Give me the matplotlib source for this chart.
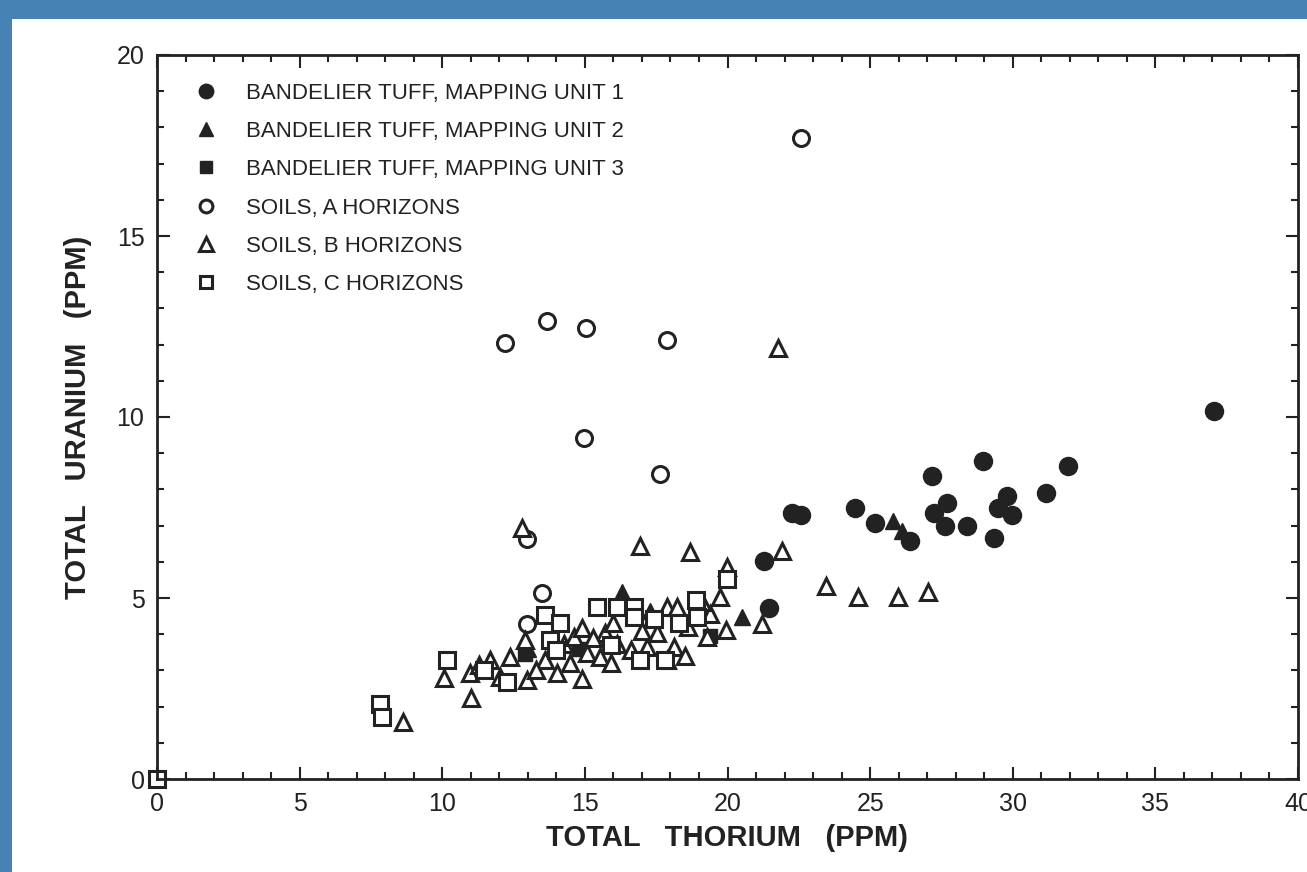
import matplotlib
matplotlib.use("Agg")
from matplotlib import pyplot as plt
from matplotlib.patches import Rectangle
from matplotlib.ticker import MultipleLocator

plt.rcParams["font.family"] = ["Liberation Sans", "DejaVu Sans"]

# Bandelier tuff, mapping unit 1 (filled circles)
tuff1_th = [37.05, 31.95, 31.16, 29.99, 29.79, 29.5, 29.35, 28.97, 28.39, 27.71,
            27.63, 27.24, 27.16, 26.39, 25.17, 24.47, 22.56, 22.25, 21.27, 21.47]
tuff1_u = [10.17, 8.65, 7.89, 7.29, 7.82, 7.48, 6.67, 8.78, 7.0, 7.63,
           7.0, 7.34, 8.37, 6.57, 7.08, 7.48, 7.29, 7.34, 6.02, 4.73]

# Bandelier tuff, mapping unit 2 (filled triangles)
tuff2_th = [25.8, 26.1, 20.5, 16.3, 17.3, 13.0]
tuff2_u = [7.12, 6.85, 4.48, 5.17, 4.65, 3.6]

# Bandelier tuff, mapping unit 3 (filled squares)
tuff3_th = [12.9, 14.8, 19.4]
tuff3_u = [3.45, 3.6, 3.95]

# soils, A horizons (open circles)
soil_a_th = [22.56, 12.19, 13.67, 15.05, 17.88, 14.96, 17.65, 12.98, 13.5, 12.97]
soil_a_u = [17.70, 12.04, 12.66, 12.45, 12.13, 9.43, 8.42, 6.62, 5.15, 4.28]

# soils, B horizons (open triangles)
soil_b_th = [21.78, 12.81, 16.95, 18.67, 21.9, 19.99, 23.44, 24.56, 25.96, 27.02,
             21.22, 8.63, 10.06, 10.98, 11.02, 11.68, 12.04, 12.39, 12.97, 12.91,
             14.02, 14.9, 14.26, 14.61, 14.9, 15.08, 14.49, 15.72, 15.54, 16.13,
             16.6, 17.18, 17.88, 18.23, 17.88, 18.12, 17.53, 19.4, 19.75, 19.29,
             19.93, 16.0, 15.3, 13.6, 18.6, 17.0, 11.3, 13.3, 15.9, 18.5, 19.1]
soil_b_u = [11.9, 6.93, 6.44, 6.27, 6.3, 5.86, 5.33, 5.03, 5.03, 5.17,
            4.28, 1.57, 2.78, 2.92, 2.25, 3.29, 2.83, 3.38, 2.73, 3.84,
            2.92, 2.75, 3.74, 3.93, 4.16, 3.47, 3.2, 4.02, 3.38, 3.74,
            3.56, 3.65, 4.76, 4.76, 3.29, 3.65, 4.02, 4.57, 5.04, 3.93,
            4.12, 4.3, 3.9, 3.3, 4.2, 4.1, 3.15, 3.0, 3.2, 3.4, 4.9]

# soils, C horizons (open squares)
soil_c_th = [0.0, 7.82, 7.89, 10.16, 11.45, 12.27, 13.61, 14.12, 13.77, 15.43,
             16.13, 16.71, 16.71, 16.95, 17.42, 18.29, 18.88, 18.94, 19.99, 14.0,
             15.9, 17.8]
soil_c_u = [0.0, 2.07, 1.70, 3.29, 3.01, 2.69, 4.53, 4.30, 3.84, 4.76,
            4.76, 4.76, 4.48, 3.29, 4.43, 4.30, 4.94, 4.48, 5.52, 3.55,
            3.7, 3.3]

ink = "#222222"

fig = plt.figure(figsize=(13.07, 8.72), dpi=100)
fig.patch.set_facecolor("#4682b4")

# white page area inside the blue frame
fig.add_artist(Rectangle((12 / 1307, 0), 1, 1 - 19 / 872,
                         transform=fig.transFigure, facecolor="white",
                         edgecolor="none", zorder=-5))

ax = fig.add_axes([157 / 1307, 1 - 779 / 872, (1298 - 157) / 1307, (779 - 55) / 872])
ax.set_facecolor("white")

ax.plot(tuff1_th, tuff1_u, "o", ms=13, color=ink, mec=ink,
        label="BANDELIER TUFF, MAPPING UNIT 1", clip_on=False)
ax.plot(tuff2_th, tuff2_u, "^", ms=12, color=ink, mec=ink,
        label="BANDELIER TUFF, MAPPING UNIT 2", clip_on=False)
ax.plot(tuff3_th, tuff3_u, "s", ms=10.5, color=ink, mec=ink,
        label="BANDELIER TUFF, MAPPING UNIT 3", clip_on=False)
ax.plot(soil_a_th, soil_a_u, "o", ms=11.5, mfc="white", mec=ink, mew=2.2,
        label="SOILS, A HORIZONS", clip_on=False)
ax.plot(soil_b_th, soil_b_u, "^", ms=12, mfc="white", mec=ink, mew=2.2,
        label="SOILS, B HORIZONS", clip_on=False)
ax.plot(soil_c_th, soil_c_u, "s", ms=11, mfc="white", mec=ink, mew=2.2,
        label="SOILS, C HORIZONS", clip_on=False)

ax.set_xlim(0, 40)
ax.set_ylim(0, 20)
ax.xaxis.set_major_locator(MultipleLocator(5))
ax.xaxis.set_minor_locator(MultipleLocator(1))
ax.yaxis.set_major_locator(MultipleLocator(5))
ax.yaxis.set_minor_locator(MultipleLocator(1))
ax.tick_params(which="both", direction="in", top=True, right=True,
               colors=ink, width=1.5)
ax.tick_params(which="major", length=9, labelsize=18, pad=9)
ax.tick_params(which="minor", length=5)
for s in ax.spines.values():
    s.set_linewidth(2)
    s.set_color(ink)

ax.set_xlabel("TOTAL   THORIUM   (PPM)", fontsize=21, fontweight="bold",
              color=ink, labelpad=6)
ax.set_ylabel("TOTAL   URANIUM   (PPM)", fontsize=21, fontweight="bold",
              color=ink, labelpad=18)

leg = ax.legend(loc="upper left", frameon=False, fontsize=16, numpoints=1,
                markerscale=0.8, handlelength=1.0, handletextpad=1.3,
                labelspacing=0.78, borderaxespad=0.0, borderpad=0.0,
                bbox_to_anchor=(0.033, 0.962))
for t in leg.get_texts():
    t.set_color(ink)

fig.savefig("out.png", dpi=100, facecolor=fig.get_facecolor())
